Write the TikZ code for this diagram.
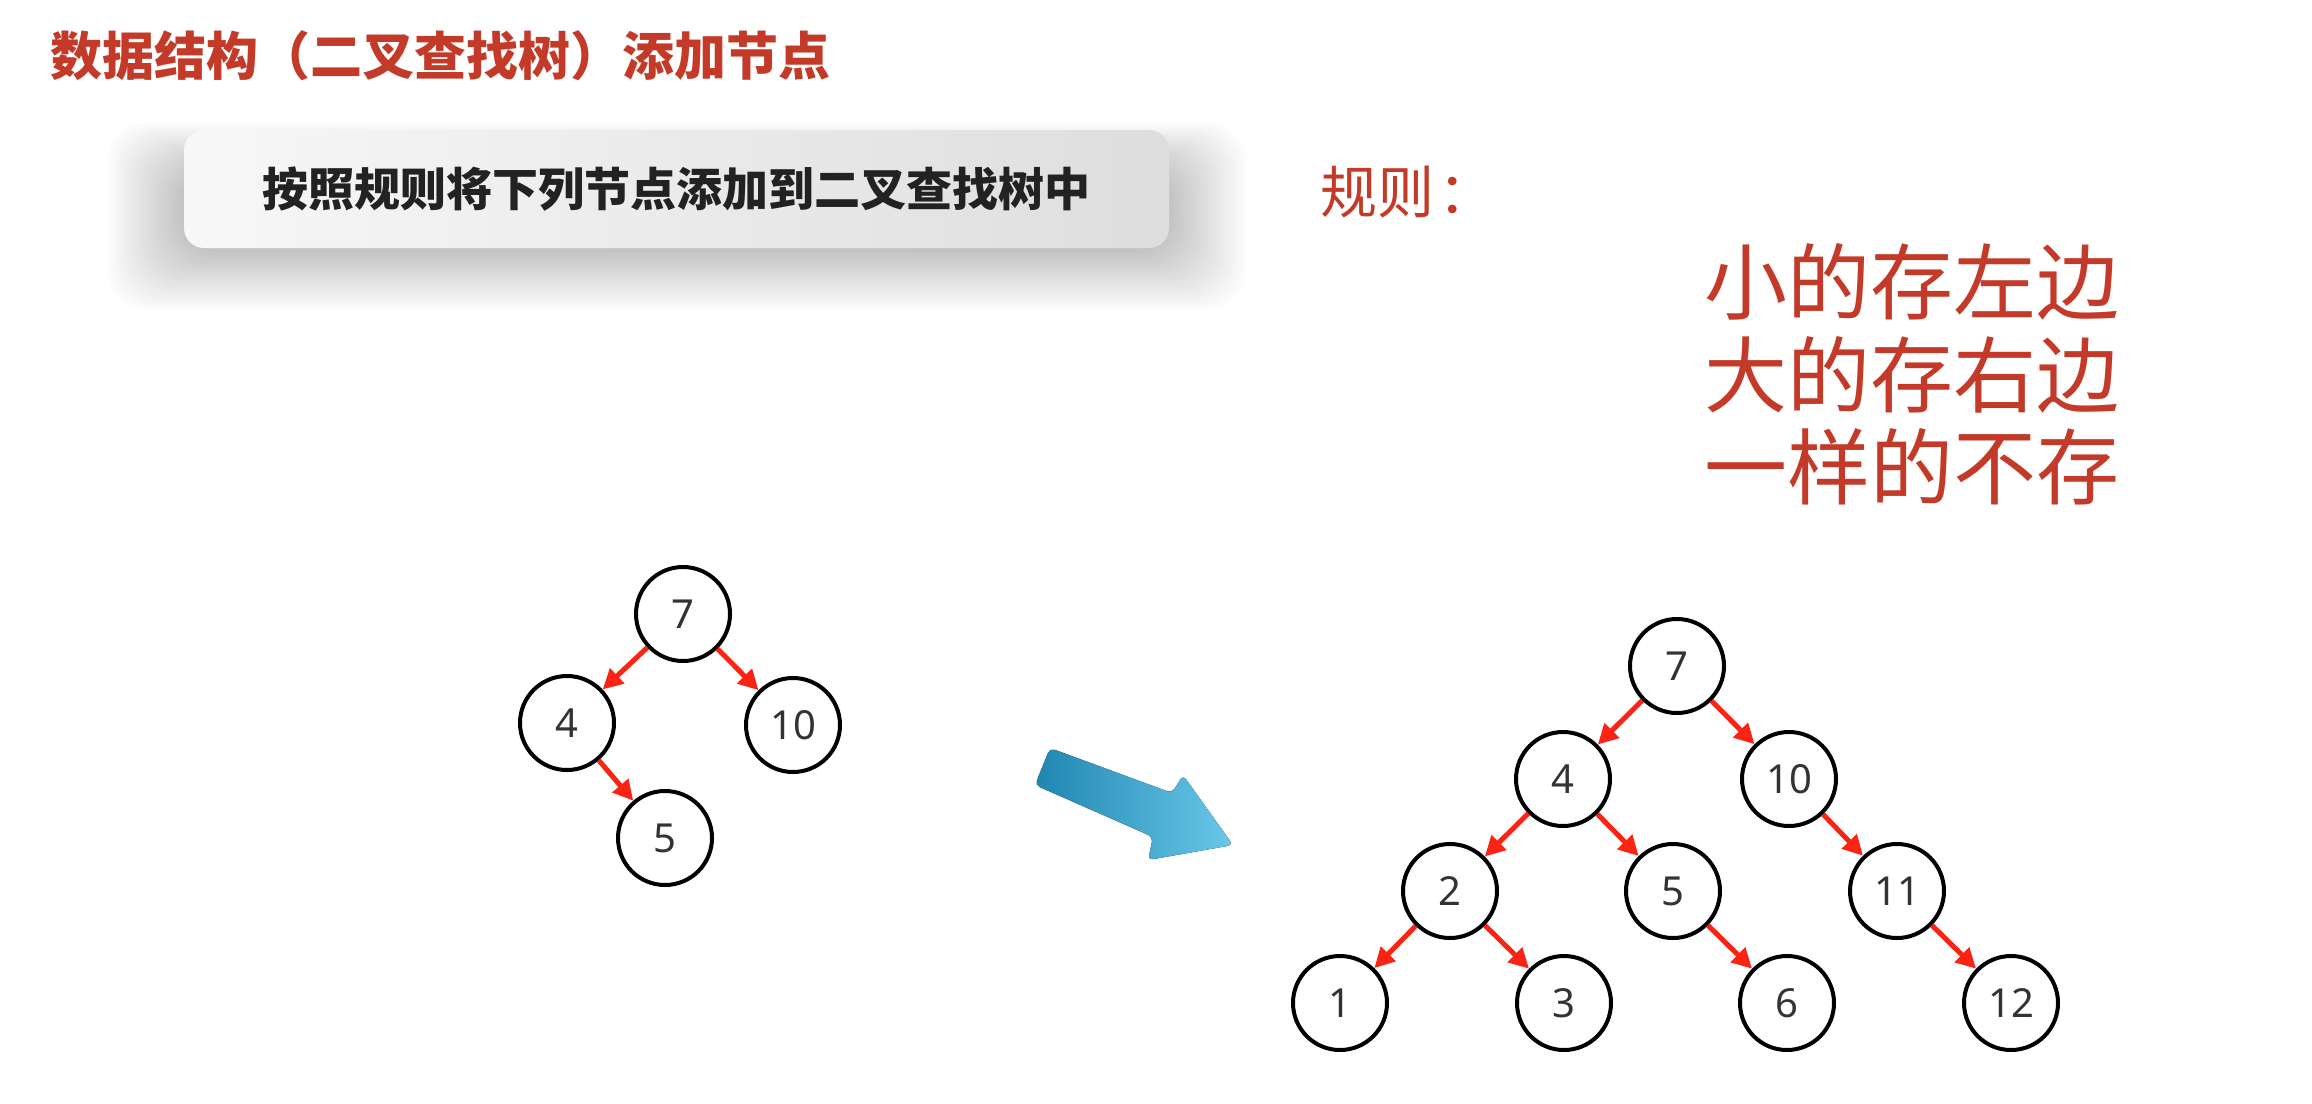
\documentclass[tikz,border=0pt]{standalone}
\usepackage{fontspec}
\setmainfont{Noto Sans}
\newfontfamily\cjk{Noto Sans CJK SC}
\usetikzlibrary{arrows.meta}
\definecolor{titlered}{RGB}{196,58,40}
\definecolor{edgered}{RGB}{250,35,20}
\definecolor{digit}{RGB}{51,51,51}
\definecolor{arrdark}{RGB}{31,134,176}
\definecolor{arrlight}{RGB}{106,200,234}
\tikzset{
  bstnode/.style={circle, draw=black, line width=4pt, minimum size=94pt, inner sep=0pt,
    font=\fontsize{40}{48}\selectfont, text=digit, fill=white},
  bstedge/.style={draw=edgered, line width=5pt, -{Triangle[length=20pt,width=20pt]}},
  ruletext/.style={anchor=west, text=titlered, font=\cjk\fontsize{83}{90}\selectfont, inner sep=0pt}
}
\begin{document}
\begin{tikzpicture}[x=1pt,y=-1pt]
\useasboundingbox (0,0) rectangle (2312,1103);
% title
\node[anchor=west, inner sep=0pt, text=titlered, font=\cjk\bfseries\fontsize{52}{60}\selectfont] (title) at (50,56) {数据结构（二叉查找树）添加节点};
% shadow of box
\foreach \i in {1,...,30}{
  \fill[black, opacity=0.009, rounded corners=40pt] (184-2.6*\i,170-1.6*\i) rectangle (1169+2.6*\i,250+2.0*\i);
}
\node[draw=none, rounded corners=20pt, left color=white!97!black, right color=black!13,
  minimum width=985pt, minimum height=118pt, inner sep=0pt] (box) at (676.5,189) {};
\node[inner sep=0pt, text={rgb,255:red,34;green,34;blue,34}, font=\cjk\bfseries\fontsize{46}{54}\selectfont] (boxtext) at (676,189) {按照规则将下列节点添加到二叉查找树中};
% rules
\node[anchor=west, inner sep=0pt, text=titlered, font=\cjk\fontsize{57}{60}\selectfont] (rtitle) at (1320,192) {规则\hspace{4pt}：};
\node[ruletext] (r1) at (1704,282) {小的存左边};
\node[ruletext] (r2) at (1704,375) {大的存右边};
\node[ruletext] (r3) at (1704,467) {一样的不存};
% small tree
\node[bstnode] (s7) at (683,614) {7};
\node[bstnode] (s4) at (567,723) {4};
\node[bstnode] (s10) at (793,725) {10};
\node[bstnode] (s5) at (665,838) {5};
\draw[bstedge] (s7) -- (s4);
\draw[bstedge] (s7) -- (s10);
\draw[bstedge] (s4) -- (s5);
% big arrow
\fill[rounded corners=5pt, left color=arrdark, right color=arrlight]
  (1050,748) -- (1172,793) -- (1183,775) -- (1233,845) -- (1148,860) -- (1153,837) -- (1035,785) -- cycle;
% big tree
\node[bstnode] (b7) at (1677,666) {7};
\node[bstnode] (b4) at (1563,779) {4};
\node[bstnode] (b10) at (1789,779) {10};
\node[bstnode] (b2) at (1450,891) {2};
\node[bstnode] (b5) at (1673,891) {5};
\node[bstnode] (b11) at (1897,891) {11};
\node[bstnode] (b1) at (1340,1003) {1};
\node[bstnode] (b3) at (1564,1003) {3};
\node[bstnode] (b6) at (1787,1003) {6};
\node[bstnode] (b12) at (2011,1003) {12};
\draw[bstedge] (b7) -- (b4);
\draw[bstedge] (b7) -- (b10);
\draw[bstedge] (b4) -- (b2);
\draw[bstedge] (b4) -- (b5);
\draw[bstedge] (b10) -- (b11);
\draw[bstedge] (b2) -- (b1);
\draw[bstedge] (b2) -- (b3);
\draw[bstedge] (b5) -- (b6);
\draw[bstedge] (b11) -- (b12);
\end{tikzpicture}
\end{document}
